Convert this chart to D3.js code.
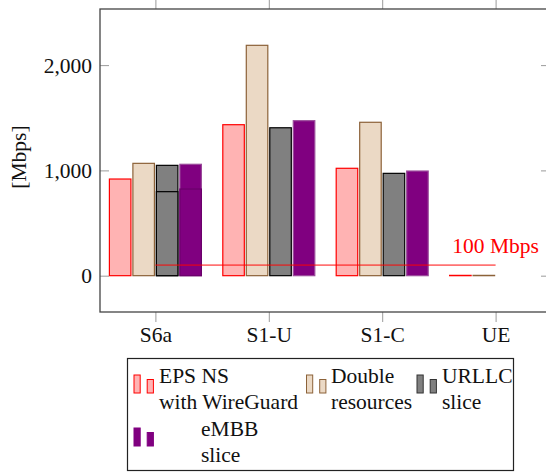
<!DOCTYPE html>
<html>
<head>
<meta charset="utf-8">
<script src="https://cdn.jsdelivr.net/npm/d3@7"></script>
<style>
  body { margin: 0; background: #fff; }
  .frame { fill: none; stroke: #444; stroke-width: 1.3; }
  .axis path.domain { display: none; }
  .axis line { stroke: #9a9a9a; stroke-width: 1; }
</style>
</head>
<body>
<svg id="plot" width="546" height="472"></svg>
<script>
(function() {
    'use strict';

    // data
    var categories = ['S6a', 'S1-U', 'S1-C', 'UE'];
    var epsWireGuard = [918, 1434, 1020, 3];
    var doubleResources = [1067, 2188, 1457, 3];
    var urllcSlice = [1048, 1405, 972, null];
    var embbSlice = [1058, 1472, 994, null];
    // second (lower) run drawn over the first one for S6a
    var urllcExtra = [798, null, null, null];
    var embbExtra = [823, null, null, null];
    var yTicks = [0, 1000, 2000];
    var limitValue = 100;
    var limitLabel = '100 Mbps';

    var FONT = "'Liberation Serif', Tinos, 'Times New Roman', Times, 'DejaVu Serif', 'Noto Serif', serif";

    var series = [
        { key: 'eps', values: epsWireGuard, fill: '#ffb3b3', stroke: '#ff0000', slot: 0 },
        { key: 'dbl', values: doubleResources, fill: '#ebd9c5', stroke: '#8c6239', slot: 1 },
        { key: 'urllc', values: urllcSlice, fill: '#808080', stroke: '#000000', slot: 2 },
        { key: 'urllc2', values: urllcExtra, fill: '#808080', stroke: '#000000', slot: 2 },
        { key: 'embb', values: embbSlice, fill: '#800080', stroke: '#9a4a9a', slot: 3 },
        { key: 'embb2', values: embbExtra, fill: '#800080', stroke: '#6a006a', slot: 3 }
    ];

    var legendItems = [
        { lines: ['EPS NS', 'with WireGuard'], fill: '#ffb3b3', stroke: '#ff0000', x: 134, y: 375, tx: 159 },
        { lines: ['Double', 'resources'], fill: '#ebd9c5', stroke: '#8c6239', x: 306.5, y: 375, tx: 331 },
        { lines: ['URLLC', 'slice'], fill: '#808080', stroke: '#333', x: 417, y: 375, tx: 442 },
        { lines: ['eMBB', 'slice'], fill: '#800080', stroke: '#800080', x: 134, y: 428, tx: 201 }
    ];

    var box = { left: 100, top: 9, right: 551, bottom: 312 };

    var svg = d3.select('#plot');

    var x = d3.scalePoint()
        .domain(categories)
        .range([155.4, 495.6]);

    var slot = d3.scaleBand()
        .domain([0, 1, 2, 3])
        .range([-46, 46])
        .paddingInner(0.084);

    var y = d3.scaleLinear()
        .domain([-345, 2533])
        .range([box.bottom, box.top]);

    /******************************************************************
        axes
     ******************************************************************/
    svg.append('g')
        .attr('class', 'y axis')
        .attr('transform', 'translate(' + box.left + ',0)')
        .call(d3.axisLeft(y).tickValues(yTicks).tickFormat(d3.format(','))
            .tickSizeInner(-9).tickSizeOuter(0).tickPadding(8));

    svg.append('g')
        .attr('class', 'y axis')
        .attr('transform', 'translate(' + box.right + ',0)')
        .call(d3.axisRight(y).tickValues(yTicks).tickFormat('')
            .tickSizeInner(-10).tickSizeOuter(0));

    svg.append('g')
        .attr('class', 'x axis')
        .attr('transform', 'translate(0,' + box.bottom + ')')
        .call(d3.axisBottom(x).tickSizeInner(10).tickSizeOuter(0).tickPadding(5));

    svg.append('g')
        .attr('class', 'x axis')
        .attr('transform', 'translate(0,' + box.top + ')')
        .call(d3.axisTop(x).tickFormat('').tickSizeInner(10).tickSizeOuter(0));

    svg.selectAll('.axis')
        .attr('font-family', FONT)
        .attr('font-size', 21.5);
    svg.selectAll('.axis text').attr('fill', '#111');

    /******************************************************************
        bars
     ******************************************************************/
    series.forEach(function(s) {
        svg.append('g')
            .attr('class', 'bars ' + s.key)
            .selectAll('rect')
            .data(s.values.map(function(v, i) { return { cat: categories[i], v: v }; })
                .filter(function(d) { return d.v !== null; }))
            .enter().append('rect')
                .attr('x', function(d) { return x(d.cat) + slot(s.slot); })
                .attr('y', function(d) { return y(d.v); })
                .attr('width', slot.bandwidth())
                .attr('height', function(d) { return y(0) - y(d.v); })
                .attr('fill', s.fill)
                .attr('stroke', s.stroke)
                .attr('stroke-width', 1.2);
    });

    // 100 Mbps reference line
    svg.append('line')
        .attr('x1', x(categories[0]))
        .attr('x2', x(categories[categories.length - 1]))
        .attr('y1', y(limitValue))
        .attr('y2', y(limitValue))
        .attr('stroke', '#ff0000')
        .attr('stroke-opacity', 0.55)
        .attr('stroke-width', 1.6);

    svg.append('text')
        .attr('x', x(categories[categories.length - 1]))
        .attr('y', y(limitValue) - 12)
        .attr('text-anchor', 'middle')
        .attr('fill', '#ff0000')
        .attr('font-family', FONT)
        .attr('font-size', 21.5)
        .text(limitLabel);

    svg.append('rect')
        .attr('class', 'frame')
        .attr('x', box.left)
        .attr('y', box.top)
        .attr('width', box.right - box.left)
        .attr('height', box.bottom - box.top);

    svg.append('text')
        .attr('transform', 'translate(26,157) rotate(-90)')
        .attr('text-anchor', 'middle')
        .attr('font-family', FONT)
        .attr('font-size', 21.5)
        .attr('fill', '#111')
        .text('[Mbps]');

    /******************************************************************
        legend
     ******************************************************************/
    var legend = svg.append('g')
        .attr('class', 'legend')
        .attr('font-family', FONT)
        .attr('font-size', 21.5);

    legend.append('rect')
        .attr('x', 127.5).attr('y', 358.5)
        .attr('width', 386).attr('height', 112)
        .attr('fill', '#fff')
        .attr('stroke', '#222')
        .attr('stroke-width', 1.2);

    legendItems.forEach(function(d) {
        legend.append('rect')
            .attr('x', d.x).attr('y', d.y)
            .attr('width', 6.2).attr('height', 18)
            .attr('fill', d.fill).attr('stroke', d.stroke).attr('stroke-width', 1);
        legend.append('rect')
            .attr('x', d.x + 13.2).attr('y', d.y + 4.5)
            .attr('width', 6.2).attr('height', 13.5)
            .attr('fill', d.fill).attr('stroke', d.stroke).attr('stroke-width', 1);
        d.lines.forEach(function(line, i) {
            legend.append('text')
                .attr('x', d.tx)
                .attr('y', d.y + 7.5 + i * 26)
                .attr('fill', '#111')
                .text(line);
        });
    });
})();
</script>
</body>
</html>
